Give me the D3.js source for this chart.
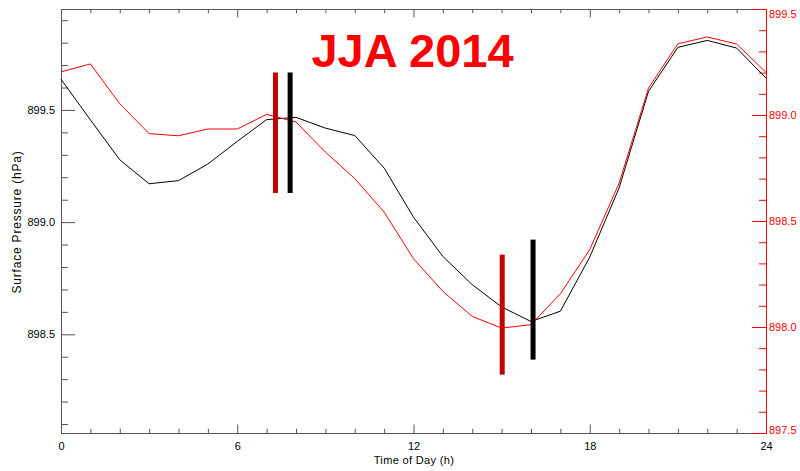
<!DOCTYPE html>
<html>
<head>
<meta charset="utf-8">
<script src="https://cdn.jsdelivr.net/npm/d3@7"></script>
<style>
  body { margin: 0; background: #fff; }
  svg { display: block; }
  text { font-family: "Liberation Sans", Arial, Helvetica, sans-serif; }
</style>
</head>
<body>
<svg id="chart" width="800" height="471"></svg>
<script>
// Hour of day for each sample
const hours = [0, 1, 2, 3, 4, 5, 6, 7, 8, 9, 10, 11, 12, 13, 14, 15, 16, 17, 18, 19, 20, 21, 22, 23, 24];

// Mean diurnal surface pressure (hPa), left axis (black)
const pressureLeft = [899.637, 899.456, 899.278, 899.171, 899.185, 899.259, 899.360, 899.457, 899.467,
  899.419, 899.386, 899.241, 899.022, 898.847, 898.721, 898.622, 898.557, 898.603, 898.844,
  899.153, 899.583, 899.779, 899.810, 899.776, 899.642];

// Mean diurnal surface pressure (hPa), right axis (red)
const pressureRight = [899.203, 899.241, 899.053, 898.912, 898.902, 898.934, 898.934, 899.003, 898.967,
  898.825, 898.700, 898.542, 898.322, 898.168, 898.050, 897.995, 898.011, 898.157, 898.365,
  898.679, 899.127, 899.336, 899.368, 899.335, 899.201];

// Timing markers of the pressure maximum / minimum (hour, extent in left-axis hPa)
const markerHours = [7.30, 7.80, 15.02, 16.07];
const markerLow   = [899.130, 899.130, 898.320, 898.387];
const markerHigh  = [899.667, 899.667, 898.855, 898.922];
const markerSeries = ["right", "left", "right", "left"];

// Axis ticks
const xMajorTicks = [0, 6, 12, 18, 24];
const xMinorTicks = [1, 2, 3, 4, 5, 7, 8, 9, 10, 11, 13, 14, 15, 16, 17, 19, 20, 21, 22, 23];
const leftMajorTicks = [898.5, 899.0, 899.5];
const leftMinorTicks = [898.1, 898.2, 898.3, 898.4, 898.6, 898.7, 898.8, 898.9, 899.1, 899.2, 899.3, 899.4, 899.6, 899.7, 899.8, 899.9];
const rightMajorTicks = [897.5, 898.0, 898.5, 899.0, 899.5];
const rightMinorTicks = [897.6, 897.7, 897.8, 897.9, 898.1, 898.2, 898.3, 898.4, 898.6, 898.7, 898.8, 898.9, 899.1, 899.2, 899.3, 899.4];
const leftDomain = [898.06, 899.95];
const rightDomain = [897.5, 899.5];

const titleText = "JJA 2014";
const xTitle = "Time of Day (h)";
const yTitle = "Surface Pressure (hPa)";

// Layout
const plotLeft = 61, plotRight = 766, plotTop = 9, plotBottom = 433;
const axisColor = "#555";
const redColor = "#ff0000";
const seriesColor = { left: "#000000", right: "#ff0000" };
const markerColor = { left: "#000000", right: "#c00000" };

const svg = d3.select("#chart");

const x = d3.scaleLinear().domain([0, 24]).range([plotLeft, plotRight]);
const yL = d3.scaleLinear().domain(leftDomain).range([plotBottom, plotTop]);
const yR = d3.scaleLinear().domain(rightDomain).range([plotBottom, plotTop]);

function styleAxis(g, color, fontSize) {
  g.selectAll(".domain").attr("stroke", color);
  g.selectAll(".tick line").attr("stroke", color);
  g.selectAll(".tick text")
    .attr("fill", color === axisColor ? "#000" : color)
    .style("font-size", fontSize + "px");
}

// Bottom axis
svg.append("g").attr("transform", `translate(0,${plotBottom})`)
  .call(d3.axisBottom(x).tickValues(xMinorTicks).tickSizeInner(-4.2).tickSizeOuter(0).tickFormat(""))
  .call(g => styleAxis(g, axisColor, 11));
svg.append("g").attr("transform", `translate(0,${plotBottom})`)
  .call(d3.axisBottom(x).tickValues(xMajorTicks).tickSizeInner(-8.5).tickSizeOuter(0).tickPadding(9).tickFormat(d3.format("d")))
  .call(g => styleAxis(g, axisColor, 11));

// Top axis (ticks only)
svg.append("g").attr("transform", `translate(0,${plotTop})`)
  .call(d3.axisTop(x).tickValues(xMinorTicks).tickSizeInner(-4.2).tickSizeOuter(0).tickFormat(""))
  .call(g => styleAxis(g, axisColor, 11));
svg.append("g").attr("transform", `translate(0,${plotTop})`)
  .call(d3.axisTop(x).tickValues(xMajorTicks).tickSizeInner(-8.5).tickSizeOuter(0).tickFormat(""))
  .call(g => styleAxis(g, axisColor, 11));

// Left axis
svg.append("g").attr("transform", `translate(${plotLeft},0)`)
  .call(d3.axisLeft(yL).tickValues(leftMinorTicks).tickSizeInner(-7).tickSizeOuter(0).tickFormat(""))
  .call(g => styleAxis(g, axisColor, 11));
svg.append("g").attr("transform", `translate(${plotLeft},0)`)
  .call(d3.axisLeft(yL).tickValues(leftMajorTicks).tickSizeInner(-14).tickSizeOuter(0).tickPadding(6).tickFormat(d3.format(".1f")))
  .call(g => styleAxis(g, axisColor, 11));

// Right axis (red)
svg.append("g").attr("transform", `translate(${plotRight},0)`)
  .call(d3.axisRight(yR).tickValues(rightMinorTicks).tickSizeInner(-7).tickSizeOuter(0).tickFormat(""))
  .call(g => styleAxis(g, redColor, 11));
svg.append("g").attr("transform", `translate(${plotRight},0)`)
  .call(d3.axisRight(yR).tickValues(rightMajorTicks).tickSizeInner(-14).tickSizeOuter(0).tickPadding(3).tickFormat(d3.format(".1f")))
  .call(g => styleAxis(g, redColor, 11))
  // keep the end labels inside the frame height
  .call(g => g.selectAll(".tick text")
    .attr("y", d => d === rightDomain[1] ? 4.5 : d === rightDomain[0] ? -3 : 0));

// Curves
const lineLeft = d3.line().x((d, i) => x(hours[i])).y(d => yL(d));
const lineRight = d3.line().x((d, i) => x(hours[i])).y(d => yR(d));

svg.append("path").datum(pressureLeft)
  .attr("d", lineLeft).attr("fill", "none")
  .attr("stroke", seriesColor.left).attr("stroke-width", 1);
svg.append("path").datum(pressureRight)
  .attr("d", lineRight).attr("fill", "none")
  .attr("stroke", seriesColor.right).attr("stroke-width", 1);

// Timing markers
svg.append("g").selectAll("line")
  .data(markerHours)
  .join("line")
  .attr("x1", d => x(d)).attr("x2", d => x(d))
  .attr("y1", (d, i) => yL(markerLow[i]))
  .attr("y2", (d, i) => yL(markerHigh[i]))
  .attr("stroke", (d, i) => markerColor[markerSeries[i]])
  .attr("stroke-width", 5);

// Title
svg.append("text")
  .attr("x", 412.5).attr("y", 66.7)
  .attr("text-anchor", "middle")
  .attr("fill", redColor)
  .style("font-size", "47px").style("font-weight", "bold")
  .text(titleText);

// Axis titles
svg.append("text")
  .attr("x", (plotLeft + plotRight) / 2 + 0.5).attr("y", 464)
  .attr("text-anchor", "middle")
  .style("font-size", "11px").style("letter-spacing", "0.35px")
  .text(xTitle);

svg.append("text")
  .attr("transform", "translate(17,222) rotate(-90)")
  .attr("text-anchor", "middle").attr("dy", "0.35em")
  .style("font-size", "12px").style("letter-spacing", "0.8px")
  .text(yTitle);
</script>
</body>
</html>
